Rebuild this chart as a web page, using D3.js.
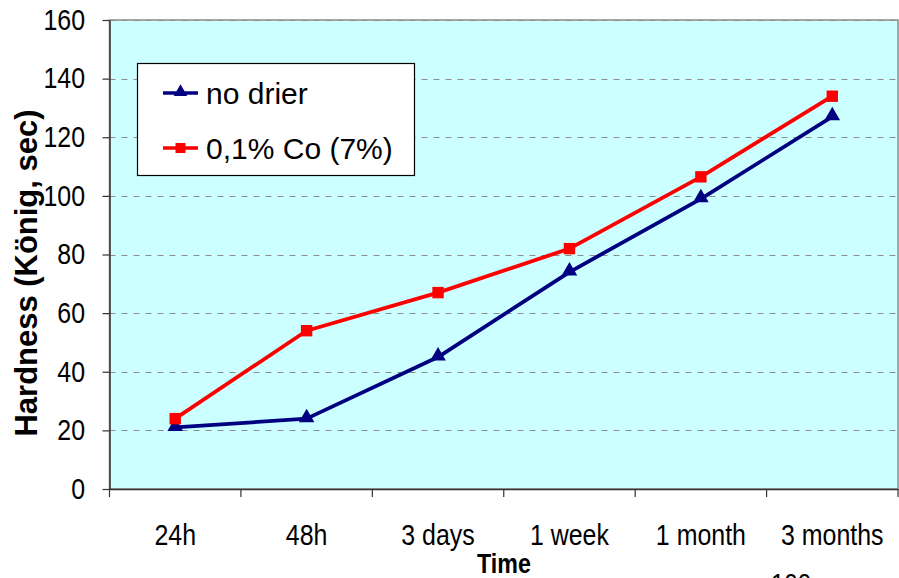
<!DOCTYPE html>
<html>
<head>
<meta charset="utf-8">
<script src="https://cdn.jsdelivr.net/npm/d3@7"></script>
<style>
  html, body { margin: 0; padding: 0; background: #fff; }
  svg { display: block; font-family: "Liberation Sans", Arial, sans-serif; }
</style>
</head>
<body>
<svg id="chart" width="899" height="578"></svg>
<script>
const categories = ["24h", "48h", "3 days", "1 week", "1 month", "3 months"];
const noDrier = [21, 24, 45, 74, 99, 127];
const cobalt = [24, 54, 67, 82, 106.5, 134];
const yTicks = [0, 20, 40, 60, 80, 100, 120, 140, 160];
const seriesNames = ["no drier", "0,1% Co (7%)"];

const svg = d3.select("#chart");
const W = 899, H = 578;
const plot = { left: 109.5, right: 898, top: 20, bottom: 489 };

svg.append("rect").attr("width", W).attr("height", H).attr("fill", "#fff");

const x = d3.scaleBand().domain(categories).range([plot.left, plot.right]).padding(0);
const y = d3.scaleLinear().domain([0, 160]).range([plot.bottom, plot.top]);

// plot background
svg.append("rect")
  .attr("x", plot.left).attr("y", plot.top)
  .attr("width", plot.right - plot.left).attr("height", plot.bottom - plot.top)
  .attr("fill", "#CCFFFF").attr("stroke", "#8c8c8c").attr("stroke-width", 1.5);

// gridlines
svg.append("g").selectAll("line")
  .data(yTicks.filter(d => d > 0))
  .join("line")
  .attr("x1", plot.left).attr("x2", plot.right)
  .attr("y1", d => Math.round(y(d)) + 0.5).attr("y2", d => Math.round(y(d)) + 0.5)
  .attr("stroke", "#8c8c8c").attr("stroke-width", 1.2)
  .attr("stroke-dasharray", "6,6");

// y axis
const yAxis = svg.append("g")
  .attr("transform", `translate(${plot.left},0)`)
  .call(d3.axisLeft(y).tickValues(yTicks).tickSize(7).tickSizeOuter(0).tickPadding(18));
yAxis.select(".domain").attr("stroke", "#333").attr("stroke-width", 1.5);
yAxis.selectAll(".tick line").attr("stroke", "#333").attr("stroke-width", 1.2);
yAxis.selectAll(".tick text")
  .attr("font-size", 29).attr("fill", "#000")
  .attr("font-family", "Liberation Sans, Arial, sans-serif")
  .attr("x", -24.5 / 0.86)
  .attr("transform", "scale(0.86,1)");

// x axis
const xAxis = svg.append("g")
  .attr("transform", `translate(0,${plot.bottom})`)
  .call(d3.axisBottom(x).tickSize(0).tickPadding(35).tickSizeOuter(0));
xAxis.select(".domain").attr("stroke", "#333").attr("stroke-width", 1.5);
xAxis.selectAll(".tick text")
  .attr("font-size", 29).attr("fill", "#000")
  .attr("font-family", "Liberation Sans, Arial, sans-serif")
  .attr("transform", "scale(0.86,1)");
// boundary ticks between categories
const bounds = categories.map(c => x(c)).concat([x(categories[categories.length - 1]) + x.bandwidth()]);
xAxis.append("g").selectAll("line")
  .data(bounds)
  .join("line")
  .attr("x1", d => d).attr("x2", d => d)
  .attr("y1", 0).attr("y2", 8)
  .attr("stroke", "#333").attr("stroke-width", 1.2);

// series
const cx = c => x(c) + x.bandwidth() / 2;
const line = d3.line().x((d, i) => cx(categories[i])).y(d => y(d));

svg.append("path").datum(noDrier)
  .attr("d", line).attr("fill", "none")
  .attr("stroke", "#000080").attr("stroke-width", 3.8).attr("stroke-linejoin", "round");
svg.append("path").datum(cobalt)
  .attr("d", line).attr("fill", "none")
  .attr("stroke", "#FF0000").attr("stroke-width", 3.8).attr("stroke-linejoin", "round");

const tri = d3.symbol().type(d3.symbolTriangle).size(105);
const sq = d3.symbol().type(d3.symbolSquare).size(130);

svg.append("g").selectAll("path")
  .data(noDrier)
  .join("path")
  .attr("d", tri)
  .attr("transform", (d, i) => `translate(${cx(categories[i])},${y(d) - 1})`)
  .attr("fill", "#000080");
svg.append("g").selectAll("path")
  .data(cobalt)
  .join("path")
  .attr("d", sq)
  .attr("transform", (d, i) => `translate(${cx(categories[i])},${y(d)})`)
  .attr("fill", "#FF0000");

// legend
const lg = svg.append("g");
lg.append("rect")
  .attr("x", 137.5).attr("y", 63.5).attr("width", 277).attr("height", 112)
  .attr("fill", "#fff").attr("stroke", "#000").attr("stroke-width", 1.2);
const legendRows = [
  { name: seriesNames[0], color: "#000080", sym: d3.symbol().type(d3.symbolTriangle).size(80), cy: 93, dy: -1 },
  { name: seriesNames[1], color: "#FF0000", sym: d3.symbol().type(d3.symbolSquare).size(100), cy: 148, dy: 0 }
];
legendRows.forEach(r => {
  lg.append("line").attr("x1", 163).attr("x2", 198).attr("y1", r.cy).attr("y2", r.cy)
    .attr("stroke", r.color).attr("stroke-width", 3.5);
  lg.append("path").attr("d", r.sym).attr("fill", r.color)
    .attr("transform", `translate(180.5,${r.cy + r.dy})`);
  lg.append("text").attr("x", 206).attr("y", r.cy + 10.5)
    .attr("font-size", 30).attr("fill", "#000").text(r.name);
});

// axis titles
svg.append("text")
  .attr("transform", "translate(37,273) rotate(-90)")
  .attr("text-anchor", "middle")
  .attr("font-size", 31).attr("font-weight", "bold").attr("fill", "#000")
  .attr("textLength", 327).attr("lengthAdjust", "spacing")
  .text("Hardness (König, sec)");

svg.append("text")
  .attr("transform", "translate(504,573) scale(0.83,1)")
  .attr("text-anchor", "middle")
  .attr("font-size", 28).attr("font-weight", "bold").attr("fill", "#000")
  .text("Time");

// partially visible stray label at bottom edge (cut off in the original too)
svg.append("text")
  .attr("transform", "translate(791,593) scale(0.86,1)")
  .attr("text-anchor", "middle")
  .attr("font-size", 28).attr("fill", "#000")
  .text("100");
</script>
</body>
</html>
